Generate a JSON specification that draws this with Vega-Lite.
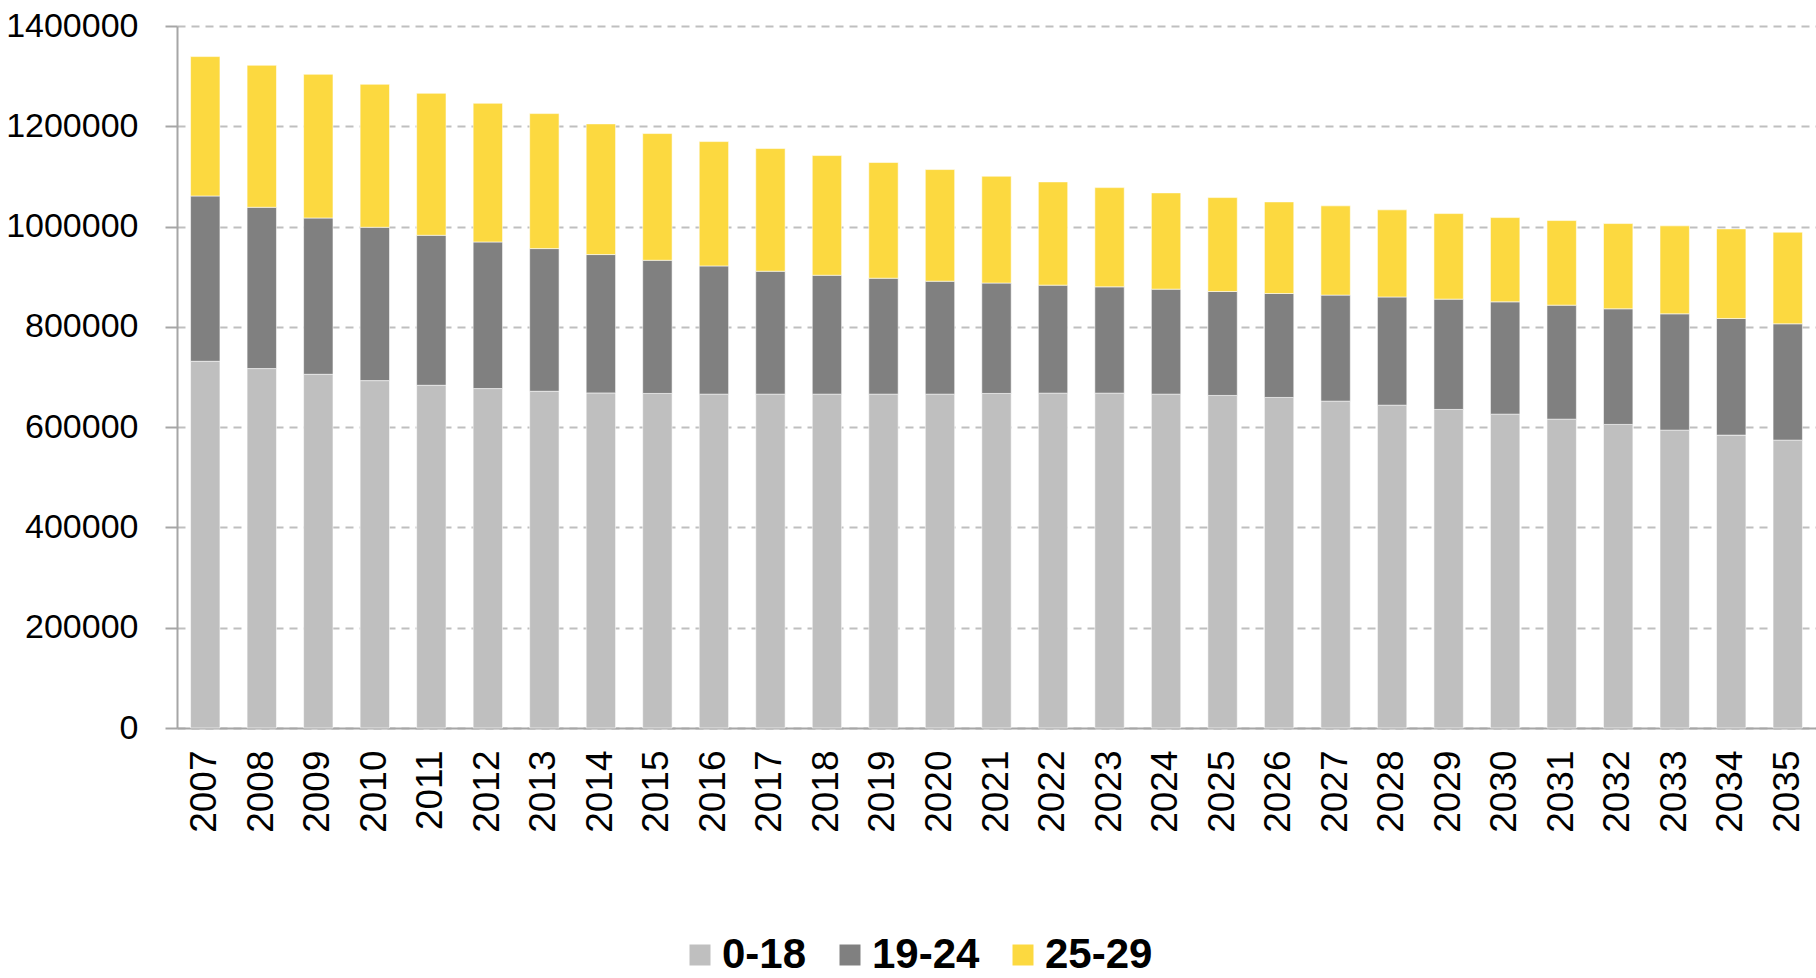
{
  "$schema": "https://vega.github.io/schema/vega-lite/v6.json",
  "width": 1639,
  "height": 702,
  "autosize": {"type": "none"},
  "padding": {"left": 177, "top": 26, "right": 0, "bottom": 250},
  "background": "white",
  "config": {"view": {"stroke": null}},
  "data": {
    "values": [
      {"year": "2007", "group": "0-18", "value": 731300}, {"year": "2007", "group": "19-24", "value": 329700}, {"year": "2007", "group": "25-29", "value": 278000},
      {"year": "2008", "group": "0-18", "value": 716800}, {"year": "2008", "group": "19-24", "value": 321700}, {"year": "2008", "group": "25-29", "value": 283200},
      {"year": "2009", "group": "0-18", "value": 705400}, {"year": "2009", "group": "19-24", "value": 311700}, {"year": "2009", "group": "25-29", "value": 286600},
      {"year": "2010", "group": "0-18", "value": 692800}, {"year": "2010", "group": "19-24", "value": 305800}, {"year": "2010", "group": "25-29", "value": 285200},
      {"year": "2011", "group": "0-18", "value": 683500}, {"year": "2011", "group": "19-24", "value": 299100}, {"year": "2011", "group": "25-29", "value": 283200},
      {"year": "2012", "group": "0-18", "value": 676900}, {"year": "2012", "group": "19-24", "value": 292400}, {"year": "2012", "group": "25-29", "value": 276600},
      {"year": "2013", "group": "0-18", "value": 671500}, {"year": "2013", "group": "19-24", "value": 284600}, {"year": "2013", "group": "25-29", "value": 269200},
      {"year": "2014", "group": "0-18", "value": 668300}, {"year": "2014", "group": "19-24", "value": 275900}, {"year": "2014", "group": "25-29", "value": 260600},
      {"year": "2015", "group": "0-18", "value": 667200}, {"year": "2015", "group": "19-24", "value": 265600}, {"year": "2015", "group": "25-29", "value": 252700},
      {"year": "2016", "group": "0-18", "value": 665800}, {"year": "2016", "group": "19-24", "value": 255700}, {"year": "2016", "group": "25-29", "value": 248000},
      {"year": "2017", "group": "0-18", "value": 665800}, {"year": "2017", "group": "19-24", "value": 245100}, {"year": "2017", "group": "25-29", "value": 244700},
      {"year": "2018", "group": "0-18", "value": 665800}, {"year": "2018", "group": "19-24", "value": 237100}, {"year": "2018", "group": "25-29", "value": 238700},
      {"year": "2019", "group": "0-18", "value": 665800}, {"year": "2019", "group": "19-24", "value": 231200}, {"year": "2019", "group": "25-29", "value": 230700},
      {"year": "2020", "group": "0-18", "value": 665800}, {"year": "2020", "group": "19-24", "value": 225200}, {"year": "2020", "group": "25-29", "value": 222700},
      {"year": "2021", "group": "0-18", "value": 667200}, {"year": "2021", "group": "19-24", "value": 220200}, {"year": "2021", "group": "25-29", "value": 213000},
      {"year": "2022", "group": "0-18", "value": 667800}, {"year": "2022", "group": "19-24", "value": 215400}, {"year": "2022", "group": "25-29", "value": 205900},
      {"year": "2023", "group": "0-18", "value": 667800}, {"year": "2023", "group": "19-24", "value": 212000}, {"year": "2023", "group": "25-29", "value": 197900},
      {"year": "2024", "group": "0-18", "value": 665800}, {"year": "2024", "group": "19-24", "value": 209400}, {"year": "2024", "group": "25-29", "value": 192000},
      {"year": "2025", "group": "0-18", "value": 663200}, {"year": "2025", "group": "19-24", "value": 207300}, {"year": "2025", "group": "25-29", "value": 187300},
      {"year": "2026", "group": "0-18", "value": 659200}, {"year": "2026", "group": "19-24", "value": 207300}, {"year": "2026", "group": "25-29", "value": 182700},
      {"year": "2027", "group": "0-18", "value": 651800}, {"year": "2027", "group": "19-24", "value": 211500}, {"year": "2027", "group": "25-29", "value": 178000},
      {"year": "2028", "group": "0-18", "value": 643800}, {"year": "2028", "group": "19-24", "value": 215800}, {"year": "2028", "group": "25-29", "value": 173700},
      {"year": "2029", "group": "0-18", "value": 635300}, {"year": "2029", "group": "19-24", "value": 220000}, {"year": "2029", "group": "25-29", "value": 170600},
      {"year": "2030", "group": "0-18", "value": 625900}, {"year": "2030", "group": "19-24", "value": 224000}, {"year": "2030", "group": "25-29", "value": 168000},
      {"year": "2031", "group": "0-18", "value": 615900}, {"year": "2031", "group": "19-24", "value": 227400}, {"year": "2031", "group": "25-29", "value": 168700},
      {"year": "2032", "group": "0-18", "value": 605400}, {"year": "2032", "group": "19-24", "value": 230600}, {"year": "2032", "group": "25-29", "value": 170000},
      {"year": "2033", "group": "0-18", "value": 594000}, {"year": "2033", "group": "19-24", "value": 232000}, {"year": "2033", "group": "25-29", "value": 175400},
      {"year": "2034", "group": "0-18", "value": 584100}, {"year": "2034", "group": "19-24", "value": 232600}, {"year": "2034", "group": "25-29", "value": 178700},
      {"year": "2035", "group": "0-18", "value": 574100}, {"year": "2035", "group": "19-24", "value": 232000}, {"year": "2035", "group": "25-29", "value": 182700}
    ]
  },
  "mark": {"type": "bar", "stroke": "#ffffff", "strokeWidth": 0.8, "strokeOpacity": 0.7},
  "encoding": {
    "x": {
      "field": "year",
      "type": "ordinal",
      "scale": {"paddingInner": 0.48, "paddingOuter": 0.24},
      "axis": {
        "title": null,
        "labelAngle": -90,
        "labelFont": "Liberation Sans",
        "labelFontSize": 37,
        "labelColor": "#000000",
        "labelPadding": 22,
        "ticks": false,
        "domainColor": "#A6A6A6",
        "domainWidth": 2
      }
    },
    "y": {
      "field": "value",
      "type": "quantitative",
      "stack": "zero",
      "scale": {"domain": [0, 1400000], "nice": false},
      "axis": {
        "title": null,
        "values": [0, 200000, 400000, 600000, 800000, 1000000, 1200000, 1400000],
        "format": "d",
        "labelFont": "Liberation Sans",
        "labelFontSize": 34,
        "labelColor": "#000000",
        "labelPadding": 27,
        "tickSize": 12,
        "tickColor": "#A6A6A6",
        "tickWidth": 2,
        "domainColor": "#A6A6A6",
        "domainWidth": 2,
        "gridColor": "#BFBFBF",
        "gridDash": [8, 6],
        "gridWidth": 2
      }
    },
    "color": {
      "field": "group",
      "type": "nominal",
      "scale": {"domain": ["0-18", "19-24", "25-29"], "range": ["#BFBFBF", "#808080", "#FCD940"]},
      "legend": {
        "title": null,
        "orient": "none",
        "legendX": 502,
        "legendY": 908,
        "direction": "horizontal",
        "padding": 0,
        "symbolType": "square",
        "symbolSize": 441,
        "symbolStrokeWidth": 0,
        "symbolOpacity": 1,
        "labelFont": "Liberation Sans",
        "labelFontSize": 42,
        "labelFontWeight": "bold",
        "labelColor": "#000000",
        "labelOffset": 1,
        "labelLimit": 400,
        "columnPadding": 22
      }
    },
    "order": {"field": "group", "sort": "ascending"}
  }
}
